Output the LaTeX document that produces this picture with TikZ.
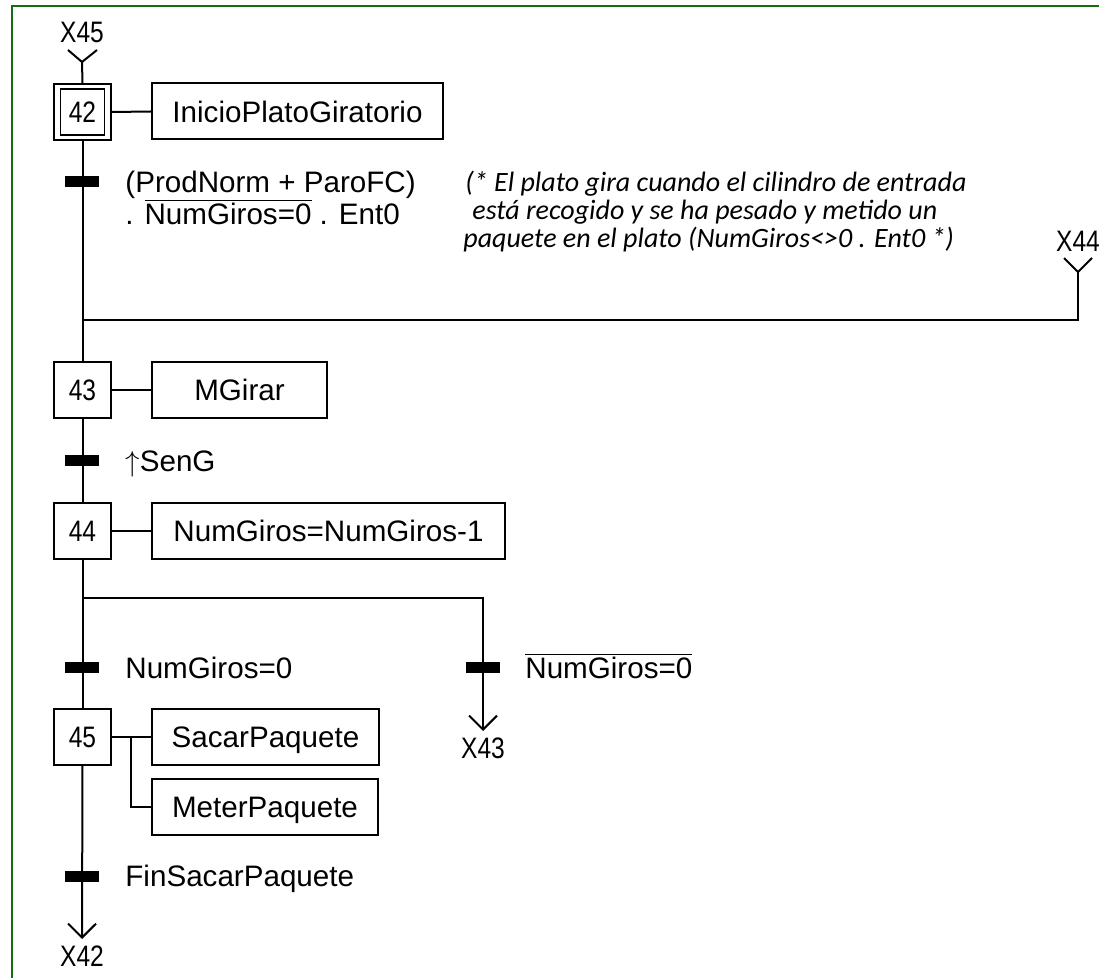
\documentclass[tikz,border=0pt]{standalone}
\usepackage{fontspec}
\setmainfont{Liberation Sans}
\newfontfamily\notefont{Carlito}
\usetikzlibrary{arrows.meta}
\definecolor{framegreen}{RGB}{16,112,16}
% condensed labels for step numbers and step references
\newcommand{\narrow}[1]{\scalebox{0.83}[1]{#1}}
\begin{document}
\begin{tikzpicture}[x=0.5pt,y=-0.5pt,
  every node/.style={font=\fontsize{14.8pt}{17pt}\selectfont, inner sep=0pt,
    text height=10.6pt, text depth=0pt},
  line/.style={line width=1pt},
  stepbox/.style={draw, line width=1pt, minimum width=28.5pt, minimum height=28pt},
  actbox/.style={draw, line width=1pt, minimum height=28pt},
  bar/.style={fill=black, minimum width=17pt, minimum height=5.5pt, text height=0pt},
  cond/.style={anchor=west},
  note/.style={anchor=base west, font=\notefont\itshape\fontsize{14pt}{14pt}\selectfont},
  tip/.style={-{Straight Barb[length=7pt,width=14pt]}}
]
\useasboundingbox (0,0) rectangle (1099,978);
% frame
\draw[framegreen, line width=1.25pt] (12,985) -- (12,6) -- (1105,6);

% step 42 (initial) and its action
\node (x45) at (82,32) {\narrow{X45}};
\coordinate (v45) at (82,62);
\node[stepbox] (s42) at (82.5,112) {};
\node[draw, line width=0.6pt, minimum width=22pt, minimum height=23pt] (s42n) at (s42.center) {\narrow{42}};
\node[actbox, minimum width=145.5pt] (a42) at (297.5,111.5) {InicioPlatoGiratorio};

% transition 42 -> 43
\node[bar] (t1) at (82,182) {};
\node[cond] (c1) at (125,182) {(ProdNorm + ParoFC)};
\node[cond] (c1b) at (125,214) {. $\overline{\mbox{NumGiros=0}}$ . Ent0};
\node[note] (n1) at (465,192) {(* El plato gira cuando el cilindro de entrada};
\node[note] (n2) at (472,220) {está recogido y se ha pesado y metido un};
\node[note] (n3) at (463,248) {paquete en el plato (NumGiros<>0 . Ent0 *)};

% jump in from step 44
\node (x44) at (1078,241) {\narrow{X44}};
\coordinate (v44) at (1078,272);
\coordinate (j44) at (82,320);

% step 43
\node[stepbox] (s43) at (82.5,390) {\narrow{43}};
\node[actbox, minimum width=87.5pt] (a43) at (239.5,390) {MGirar};
\node[bar] (t2) at (82,461) {};
\node[cond] (c2) at (125,461) {$\uparrow$SenG};

% step 44
\node[stepbox] (s44) at (82.5,531) {\narrow{44}};
\node[actbox, minimum width=176.5pt] (a44) at (328.5,531) {NumGiros=NumGiros-1};

% selection divergence
\coordinate (d44) at (82,598);
\node[bar] (t3) at (82,668) {};
\node[cond] (c3) at (125,668) {NumGiros=0};
\node[bar] (t4) at (483,668) {};
\node[cond] (c4) at (525,668) {$\overline{\mbox{NumGiros=0}}$};
\coordinate (to43) at (483,731);
\node (x43) at (483,748) {\narrow{X43}};

% step 45 with two actions
\node[stepbox] (s45) at (82.5,737) {\narrow{45}};
\node[actbox, minimum width=113.5pt] (sacar) at (265.5,737) {SacarPaquete};
\node[actbox, minimum width=113pt] (meter) at (265,807) {MeterPaquete};
\coordinate (br) at (131,737);
\node[bar] (t5) at (82,876) {};
\node[cond] (c5) at (125,876) {FinSacarPaquete};
\coordinate (to42) at (82,939);
\node (x42) at (82,956) {\narrow{X42}};

% links
\draw[line] (68,50) -- (v45) -- (97,50);
\draw[line] (v45) -- (s42.north);
\draw[line] (s42.east) -- (a42.west);
\draw[line] (s42.south) -- (s43.north);
\draw[line] (1064,258) -- (v44) -- (1092,258);
\draw[line] (v44) |- (j44);
\draw[line] (s43.east) -- (a43.west);
\draw[line] (s43.south) -- (s44.north);
\draw[line] (s44.east) -- (a44.west);
\draw[line] (s44.south) -- (s45.north);
\draw[line, tip] (d44) -| (to43);
\draw[line] (s45.east) -- (sacar.west);
\draw[line] (br) |- (meter.west);
\draw[line, tip] (s45.south) -- (to42);
\end{tikzpicture}
\end{document}
